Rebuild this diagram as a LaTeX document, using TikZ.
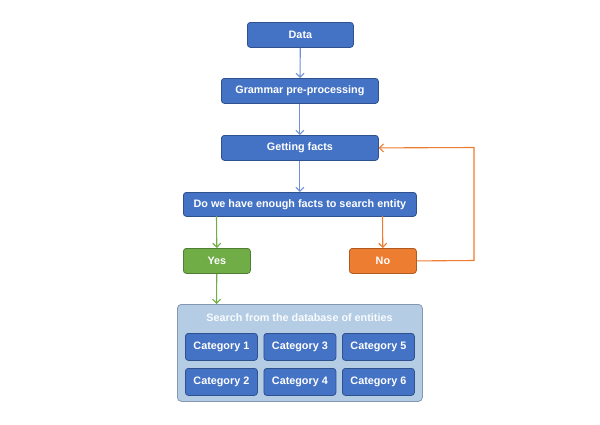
\documentclass[tikz,border=0pt]{standalone}
\usepackage{fontspec}
\setmainfont{Liberation Sans}
\usetikzlibrary{arrows.meta}
\definecolor{bfill}{HTML}{4472C4}
\definecolor{bdraw}{HTML}{2F528F}
\definecolor{barrow}{HTML}{6F8FD6}
\definecolor{gfill}{HTML}{70AD47}
\definecolor{gdraw}{HTML}{507E32}
\definecolor{ofill}{HTML}{ED7D31}
\definecolor{odraw}{HTML}{AE5A21}
\definecolor{lfill}{HTML}{B4CCE4}
\definecolor{ldraw}{HTML}{8497B0}
\tikzset{
  x=1pt,y=-1pt,
  box/.style={draw=bdraw,fill=bfill,rounded corners=3pt,line width=0.8pt,
    text=white,font=\fontsize{10.8}{12}\selectfont\bfseries,inner sep=0pt,anchor=north west},
  ybox/.style={box,draw=gdraw,fill=gfill},
  nbox/.style={box,draw=odraw,fill=ofill},
  arr/.style={-{Straight Barb[length=4pt,width=8pt]},line width=1.1pt},
}
\begin{document}
\begin{tikzpicture}
\useasboundingbox[fill=white] (0,0) rectangle (600,424);
\node[box,minimum width=106pt,minimum height=25pt] (data) at (247,22) {Data};
\node[box,minimum width=157pt,minimum height=25pt] (gram) at (221,78) {Grammar pre-processing};
\node[box,minimum width=157pt,minimum height=25pt] (facts) at (221,135) {Getting facts};
\node[box,minimum width=233pt,minimum height=24pt] (q) at (183,192) {Do we have enough facts to search entity};
\node[ybox,minimum width=67pt,minimum height=25pt] (yes) at (183,248) {Yes};
\node[nbox,minimum width=67pt,minimum height=25pt] (no) at (349,248) {No};
\node[draw=ldraw,fill=lfill,rounded corners=4pt,line width=0.8pt,minimum width=245pt,minimum height=97pt,anchor=north west,inner sep=0pt] (db) at (177,304) {};
\node[text=white!92!lfill,font=\fontsize{10.8}{12}\selectfont\bfseries] (dbt) at (299.5,318) {Search from the database of entities};
\node[box,minimum width=72pt,minimum height=27pt] (c1) at (185,333) {Category 1};
\node[box,minimum width=72pt,minimum height=27pt] (c3) at (263.5,333) {Category 3};
\node[box,minimum width=72pt,minimum height=27pt] (c5) at (342,333) {Category 5};
\node[box,minimum width=72pt,minimum height=27pt] (c2) at (185,368) {Category 2};
\node[box,minimum width=72pt,minimum height=27pt] (c4) at (263.5,368) {Category 4};
\node[box,minimum width=72pt,minimum height=27pt] (c6) at (342,368) {Category 6};
\coordinate (qy) at (216.5,216);
\coordinate (qn) at (382.5,216);
\coordinate (dby) at (216.5,304);
\draw[arr,barrow] (data) -- (gram);
\draw[arr,barrow] (gram) -- (facts);
\draw[arr,barrow] (facts) -- (q);
\draw[arr,gfill] (qy) -- (yes);
\draw[arr,ofill] (qn) -- (no);
\draw[arr,gfill] (yes) -- (dby);
\draw[arr,ofill] (no.east) -- (474,260.5) -- (474,147.5) -- (facts.east);
\end{tikzpicture}
\end{document}
